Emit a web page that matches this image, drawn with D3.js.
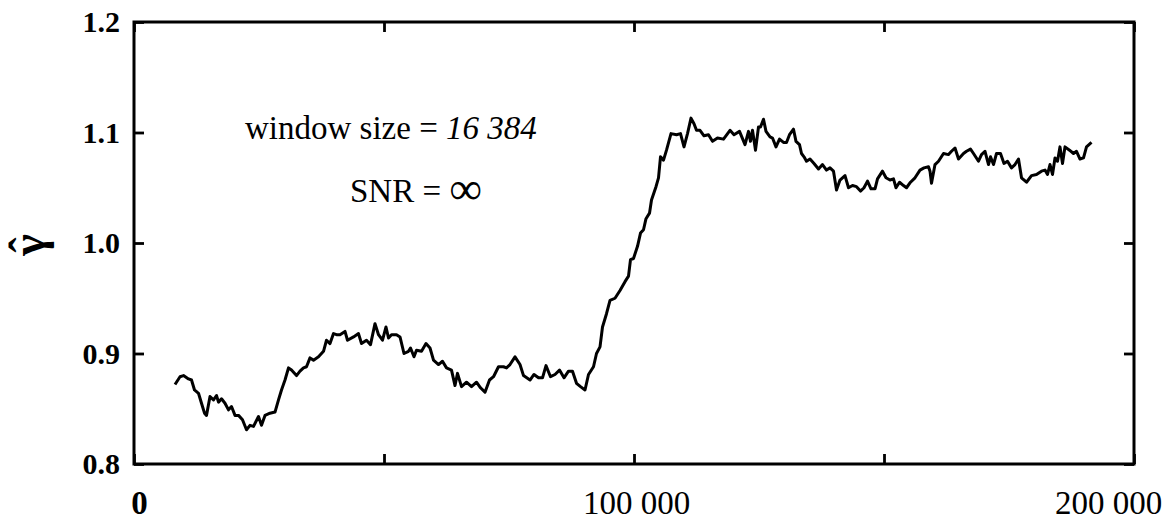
<!DOCTYPE html>
<html>
<head>
<meta charset="utf-8">
<script src="https://cdn.jsdelivr.net/npm/d3@7"></script>
<style>
  body { margin: 0; background: #fff; }
  svg { display: block; font-family: "Liberation Serif", "DejaVu Serif", serif; }
</style>
</head>
<body>
<script>
// sample position (x) and estimated exponent (gamma hat)
var samplePos = [
  8200, 9200, 9900, 10900, 11500, 12100, 12900, 13500, 14100, 14500, 15200, 15900, 16500, 16900, 17500, 18200, 18900, 19500, 20200, 20900,
  21700, 22500, 23200, 23900, 24900, 25500, 26200, 27200, 28200, 28900, 29500, 30200, 30900, 31500, 32500, 33200, 33900, 34500, 35200, 35900,
  36900, 37900, 38500, 39200, 39900, 40500, 41200, 42200, 42700, 43900, 44900, 45500,
  46500, 47300, 48200, 48900, 49700, 50400, 50900, 51500, 52500, 53200, 54000, 54900, 55300, 56000, 56500, 57500, 58400, 59200, 59900, 60900,
  61700, 62500, 63500, 64200, 64700, 65500, 66500, 67500, 68500, 69300, 70200, 71100, 71900, 72900, 73900, 74500, 75200, 76200, 77200, 77900,
  79200, 80000, 80900, 81700, 82400, 83300, 84200, 85100,
  86000, 86900, 87700, 88500, 89300, 90200, 90900, 91900, 92500, 93200, 93700, 94500, 95200, 96200, 97200, 98200, 98900, 99300, 99900, 100700,
  101300, 101900, 102400, 103100, 103500, 104400, 104900, 105300, 105900, 106500, 107400, 108500, 109300, 110000, 110700, 111400, 112000, 112500, 113200, 114000,
  114900, 115700, 116700, 117900, 119200, 120000, 121100,
  122200, 122900, 123300, 123700, 124300, 124900, 125300, 125900, 126400, 127200, 127700, 128400, 129100, 129900, 130500, 131100, 131900, 132400, 133100, 133500,
  134000, 134500, 135200, 136000, 136900, 137700, 138500, 139200, 139900, 140500, 141200, 142200, 142900, 143700, 144500, 145300, 146000, 146700, 147400, 148200,
  148700, 149700, 150400, 151200, 151900, 152400, 153100, 153900, 154500, 155300, 156200, 157200, 158000, 158900,
  159200, 159500, 160200, 160900, 161900, 162900, 163500, 164200, 164900, 165900, 166500, 167300, 167900, 168900, 169500, 170200, 170900, 171300, 171900, 172500,
  173300, 174000, 174700, 175500, 176200, 176900, 177500, 178500, 179500, 180500, 181500, 182200, 182700, 183200, 183700, 184200, 184700, 185200, 185700, 186200,
  187100, 187900, 188500, 189200, 189900, 190500, 191500
];
var gammaHat = [
  0.872, 0.879, 0.880, 0.877, 0.876, 0.867, 0.864, 0.855, 0.846, 0.844, 0.861, 0.858, 0.862, 0.856, 0.859, 0.855, 0.849, 0.852, 0.844, 0.844,
  0.840, 0.831, 0.835, 0.834, 0.843, 0.835, 0.844, 0.846, 0.847, 0.858, 0.867, 0.876, 0.887, 0.885, 0.880, 0.884, 0.887, 0.888, 0.896, 0.894,
  0.897, 0.902, 0.912, 0.909, 0.918, 0.917, 0.917, 0.920, 0.912, 0.915, 0.918, 0.909,
  0.912, 0.908, 0.927, 0.917, 0.912, 0.924, 0.914, 0.917, 0.917, 0.915, 0.900, 0.902, 0.905, 0.897, 0.903, 0.902, 0.909, 0.905, 0.894, 0.890,
  0.893, 0.887, 0.885, 0.871, 0.882, 0.870, 0.874, 0.870, 0.874, 0.869, 0.865, 0.876, 0.879, 0.888, 0.888, 0.887, 0.890, 0.897, 0.890, 0.880,
  0.876, 0.881, 0.878, 0.878, 0.889, 0.879, 0.881, 0.885,
  0.878, 0.884, 0.884, 0.873, 0.870, 0.867, 0.881, 0.888, 0.900, 0.906, 0.924, 0.936, 0.948, 0.950, 0.957, 0.965, 0.970, 0.985, 0.986, 0.997,
  1.009, 1.012, 1.022, 1.027, 1.039, 1.051, 1.059, 1.078, 1.075, 1.084, 1.099, 1.098, 1.099, 1.087, 1.099, 1.113, 1.108, 1.102, 1.102, 1.097,
  1.098, 1.092, 1.095, 1.094, 1.102, 1.098, 1.101,
  1.089, 1.101, 1.092, 1.102, 1.084, 1.105, 1.105, 1.112, 1.101, 1.096, 1.095, 1.087, 1.094, 1.091, 1.091, 1.098, 1.103, 1.092, 1.089, 1.081,
  1.078, 1.074, 1.076, 1.072, 1.067, 1.071, 1.066, 1.068, 1.065, 1.048, 1.057, 1.061, 1.050, 1.052, 1.051, 1.047, 1.050, 1.056, 1.049, 1.049,
  1.058, 1.065, 1.059, 1.057, 1.058, 1.050, 1.055, 1.052, 1.050, 1.055, 1.059, 1.066, 1.068, 1.069,
  1.065, 1.054, 1.071, 1.074, 1.081, 1.080, 1.083, 1.086, 1.076, 1.081, 1.083, 1.085, 1.081, 1.074, 1.080, 1.083, 1.071, 1.078, 1.071, 1.081,
  1.081, 1.072, 1.074, 1.068, 1.071, 1.076, 1.059, 1.055, 1.061, 1.062, 1.065, 1.066, 1.062, 1.071, 1.062, 1.077, 1.074, 1.087, 1.072, 1.087,
  1.084, 1.081, 1.083, 1.076, 1.077, 1.087, 1.091
];

var xTicks = [0, 50000, 100000, 150000, 200000];
var xLabelled = [0, 100000, 200000];
var yTicks = [0.8, 0.9, 1.0, 1.1, 1.2];

var margin = {top: 22, right: 42, bottom: 56, left: 134},
    width = 1176 - margin.left - margin.right,
    height = 520 - margin.top - margin.bottom;

var serif = '"Liberation Serif", "DejaVu Serif", serif';

var svg = d3.select("body").append("svg")
    .attr("width", 1176).attr("height", 520);
var g = svg.append("g")
    .attr("transform", "translate(" + margin.left + "," + margin.top + ")");

var x = d3.scaleLinear().domain([0, 200000]).range([0, width]);
var y = d3.scaleLinear().domain([0.8, 1.2]).range([height, 0]);

var spaced = d3.formatLocale({decimal: ".", thousands: " ", grouping: [3], currency: ["", ""]}).format(",");

// axes, ticks pointing into the box
var tick = 10;
var bottom = g.append("g").attr("transform", "translate(0," + height + ")")
    .call(d3.axisBottom(x).tickValues(xTicks).tickSizeInner(-tick).tickSizeOuter(0).tickPadding(27)
      .tickFormat(function(d){ return xLabelled.indexOf(d) >= 0 ? spaced(d) : ""; }));
g.append("g")
    .call(d3.axisTop(x).tickValues(xTicks).tickSizeInner(-tick).tickSizeOuter(0).tickFormat(""));
var left = g.append("g")
    .call(d3.axisLeft(y).tickValues(yTicks).tickSizeInner(-tick).tickSizeOuter(0).tickPadding(14)
      .tickFormat(d3.format(".1f")));
g.append("g").attr("transform", "translate(" + width + ",0)")
    .call(d3.axisRight(y).tickValues(yTicks).tickSizeInner(-tick).tickSizeOuter(0).tickFormat(""));

g.selectAll(".domain").remove();
g.selectAll(".tick line").attr("stroke", "#000").attr("stroke-width", 2.8);

bottom.attr("font-family", serif);
left.attr("font-family", serif);
bottom.selectAll("text")
    .attr("fill", "#000").style("font-size", "33px")
    .style("font-weight", function(d){ return d === 0 ? "bold" : "normal"; })
    .attr("dx", function(d){ return d === 0 ? 5 : (d === 200000 ? -26 : 2); });
left.selectAll("text")
    .attr("fill", "#000").style("font-size", "30px").style("font-weight", "bold");

// frame
g.append("rect")
    .attr("width", width).attr("height", height)
    .attr("fill", "none").attr("stroke", "#000").attr("stroke-width", 3);

// the estimate curve
var pts = samplePos.map(function(p, i){ return [p, gammaHat[i]]; });
var line = d3.line()
    .x(function(d){ return x(d[0]); })
    .y(function(d){ return y(d[1]); });
g.append("path").datum(pts)
    .attr("d", line)
    .attr("fill", "none").attr("stroke", "#000")
    .attr("stroke-width", 3).attr("stroke-linejoin", "round");

// annotations
var note1 = svg.append("text").attr("x", 245).attr("y", 139)
    .style("font-size", "33px").attr("fill", "#000");
note1.append("tspan").text("window size = ");
note1.append("tspan").style("font-style", "italic").text("16 384");

var note2 = svg.append("text").attr("x", 350).attr("y", 202)
    .style("font-size", "33px").attr("fill", "#000");
note2.append("tspan").text("SNR = ");
note2.append("tspan").style("font-size", "46px").attr("dy", 2).text("\u221E");

// y axis label: gamma hat, rotated
var ylab = svg.append("g").attr("transform", "translate(44,245) rotate(-90)");
ylab.append("text").attr("text-anchor", "middle")
    .style("font-size", "46px").style("font-weight", "bold").attr("fill", "#000")
    .text("\u03B3");
ylab.append("text").attr("text-anchor", "middle").attr("y", -3)
    .style("font-size", "46px").style("font-weight", "bold").attr("fill", "#000")
    .text("\u02C6");
</script>
</body>
</html>
